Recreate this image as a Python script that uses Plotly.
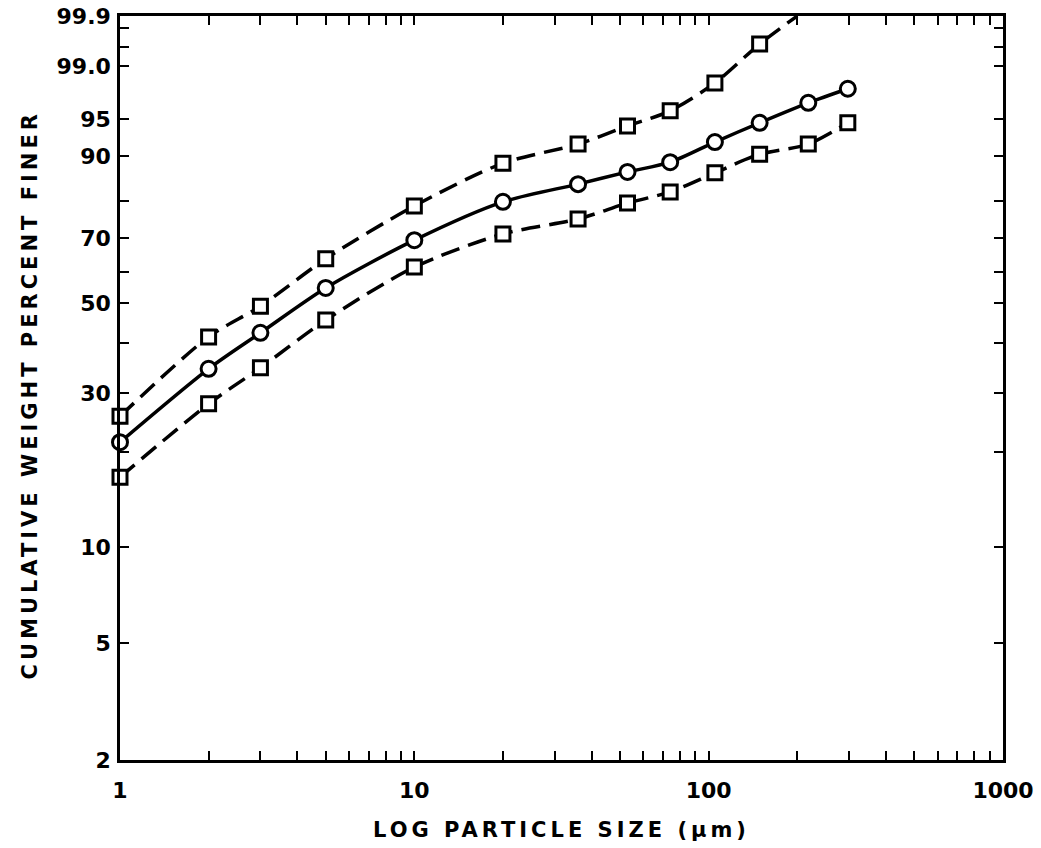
import numpy as np
import plotly.graph_objects as go
from statistics import NormalDist

# ---------------- data ----------------
size_um = [1, 2, 3, 5, 10, 20, 36, 53, 74, 105, 149, 218, 297]

upper_x = [1, 2, 3, 5, 10, 20, 36, 53, 74, 105, 149, 200]
upper_pct = [25.8, 41.5, 49.2, 64.0, 78.8, 88.7, 91.9, 94.25, 96.0, 98.25, 99.565, 99.9]
upper_marker = [True] * 11 + [False]   # last point: line runs off the top of the chart

mid_pct = [21.5, 34.7, 42.5, 54.9, 69.4, 79.8, 84.3, 87.0, 88.9, 92.2, 94.6, 96.8, 97.9]
low_pct = [16.9, 28.0, 34.9, 45.7, 61.5, 71.2, 75.4, 79.5, 82.4, 86.8, 90.3, 91.9, 94.6]

# ---------------- axis scale (probability paper, as printed) ----------------
y_tick_pct = [2, 5, 10, 20, 30, 40, 50, 60, 70, 80, 90, 95, 99, 99.5, 99.8, 99.9]
y_tick_txt = ["2", "5", "10", "", "30", "", "50", "", "70", "", "90", "95", "99.0", "", "", "99.9"]
y_tick_pos = [0.0, 0.1573, 0.2863, 0.4140, 0.4933, 0.5605, 0.6142, 0.6559, 0.7016,
              0.7513, 0.8118, 0.8616, 0.9328, 0.9583, 0.9839, 1.0]

x_major = [1, 10, 100, 1000]
x_major_txt = ["1", "10", "100", "1000"]

nd = NormalDist()
knot_z = np.array([nd.inv_cdf(p / 100.0) for p in y_tick_pct])
knot_pos = np.array(y_tick_pos)


def prob_scale(pcts):
    z = np.array([nd.inv_cdf(p / 100.0) for p in pcts])
    return np.interp(z, knot_z, knot_pos)


x_ticks = []
x_ticktxt = []
for dec in [1, 10, 100]:
    for k in range(1, 10):
        v = k * dec
        x_ticks.append(v)
        x_ticktxt.append(x_major_txt[x_major.index(v)] if v in x_major else "")
x_ticks.append(1000)
x_ticktxt.append("1000")

FONT = "DejaVu Sans"
LW = 3.5
DASH = "19px,9px"
MS = 14
MLW = 3

fig = go.Figure()

fig.add_trace(go.Scatter(
    x=upper_x, y=prob_scale(upper_pct), mode="lines",
    line=dict(color="black", width=LW, dash=DASH, shape="spline", smoothing=0.8),
    cliponaxis=False, showlegend=False))

fig.add_trace(go.Scatter(
    x=size_um, y=prob_scale(mid_pct), mode="lines",
    line=dict(color="black", width=LW, shape="spline", smoothing=0.8),
    cliponaxis=False, showlegend=False))

fig.add_trace(go.Scatter(
    x=size_um, y=prob_scale(low_pct), mode="lines",
    line=dict(color="black", width=LW, dash=DASH, shape="spline", smoothing=0.8),
    cliponaxis=False, showlegend=False))

# markers drawn on top, white-filled
up_mx = [x for x, m in zip(upper_x, upper_marker) if m]
up_my = [p for p, m in zip(upper_pct, upper_marker) if m]
fig.add_trace(go.Scatter(
    x=up_mx, y=prob_scale(up_my), mode="markers",
    marker=dict(symbol="square", size=MS, color="white", line=dict(width=MLW, color="black")),
    cliponaxis=False, showlegend=False))
fig.add_trace(go.Scatter(
    x=size_um, y=prob_scale(mid_pct), mode="markers",
    marker=dict(symbol="circle", size=MS + 1, color="white", line=dict(width=MLW, color="black")),
    cliponaxis=False, showlegend=False))
fig.add_trace(go.Scatter(
    x=size_um, y=prob_scale(low_pct), mode="markers",
    marker=dict(symbol="square", size=MS, color="white", line=dict(width=MLW, color="black")),
    cliponaxis=False, showlegend=False))

axis_common = dict(showgrid=False, zeroline=False, showline=True, linecolor="black",
                   linewidth=2.5, mirror="ticks", ticks="inside", ticklen=9, tickwidth=2,
                   tickcolor="black", automargin=False,
                   tickfont=dict(family=FONT, size=22, color="black", weight="bold"))

fig.update_xaxes(type="log", range=[0, 3], tickmode="array", tickvals=x_ticks,
                 ticktext=x_ticktxt, ticklabelstandoff=9, **axis_common)
fig.update_yaxes(range=[0, 1], tickmode="array", tickvals=y_tick_pos,
                 ticktext=y_tick_txt, ticklabelstandoff=2, **axis_common)

fig.add_annotation(
    text='<span style="letter-spacing:4px">LOG PARTICLE SIZE (μm)</span>',
    xref="paper", yref="paper", x=0.5, y=0, xanchor="center", yanchor="middle",
    yshift=-70, showarrow=False,
    font=dict(family=FONT, size=21, color="black", weight="bold"))
fig.add_annotation(
    text='<span style="letter-spacing:4px">CUMULATIVE WEIGHT PERCENT FINER</span>',
    xref="paper", yref="paper", x=0, y=0.49, xanchor="center", yanchor="middle",
    xshift=-90, textangle=-90, showarrow=False,
    font=dict(family=FONT, size=21, color="black", weight="bold"))

fig.update_layout(width=1041, height=848, margin=dict(l=120, r=38, t=16, b=88),
                  plot_bgcolor="white", paper_bgcolor="white")

fig.write_html("out.html")
